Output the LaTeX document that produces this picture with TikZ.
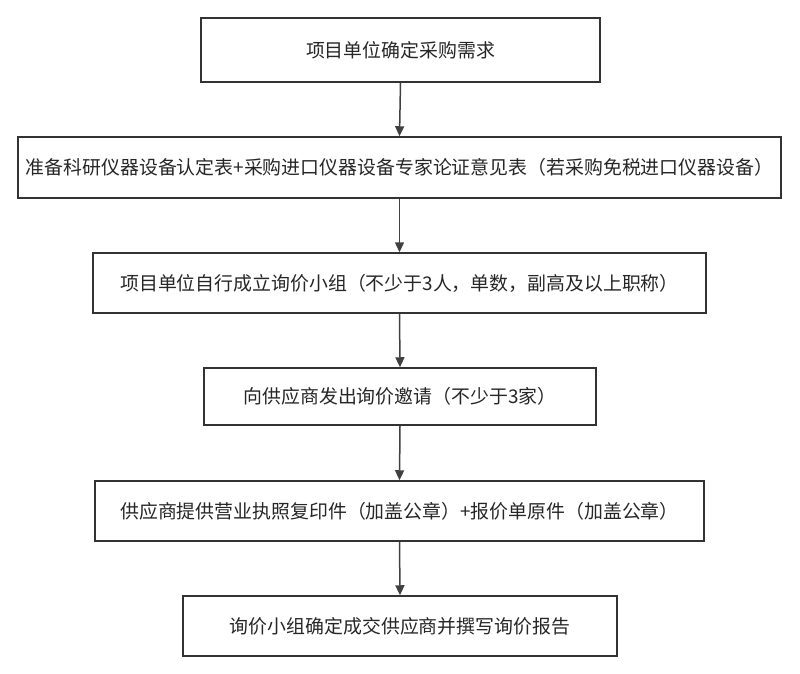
\documentclass[tikz,border=0pt]{standalone}
\usepackage{fontspec}
\usepackage{xcolor}
\usepackage{tikz}
\usetikzlibrary{arrows.meta,positioning}
\setmainfont{Noto Sans CJK SC}

\begin{document}
\begin{tikzpicture}[x=1pt, y=-1pt,
            box/.style={draw=black!80, line width=1.5pt, rectangle, inner sep=0pt,
                 text=black!85, align=center, font=\fontsize{18.9}{22}\selectfont},
            flow/.style={-{Triangle[length=10pt, width=9pt]}, draw=black!75, fill=black!75, line width=1.5pt}
            ]
            \useasboundingbox (0,0) rectangle (800,674);

            % Nodes with manual coordinates
            \node[box, minimum width=399pt, minimum height=64pt] (req) at (400.5,50) {项目单位确定采购需求};
            \node[box, minimum width=763pt, minimum height=61pt] (doc) at (399.5,167.5) {准备科研仪器设备认定表+采购进口仪器设备专家论证意见表（若采购免税进口仪器设备）};
            \node[box, minimum width=613pt, minimum height=60pt] (grp) at (399.5,283) {项目单位自行成立询价小组（不少于3人，单数，副高及以上职称）};
            \node[box, minimum width=392pt, minimum height=57pt] (inv) at (400,396.5) {向供应商发出询价邀请（不少于3家）};
            \node[box, minimum width=609pt, minimum height=60pt] (sup) at (399.5,511) {供应商提供营业执照复印件（加盖公章）+报价单原件（加盖公章）};
            \node[box, minimum width=434pt, minimum height=60pt] (rep) at (400,626) {询价小组确定成交供应商并撰写询价报告};

            % Arrows
            \draw[flow] (req.south) -- (doc.north);
            \draw[flow] (doc.south) -- (grp.north);
            \draw[flow] (grp.south) -- (inv.north);
            \draw[flow] (inv.south) -- (sup.north);
            \draw[flow] (sup.south) -- (rep.north);
        \end{tikzpicture}
\end{document}
